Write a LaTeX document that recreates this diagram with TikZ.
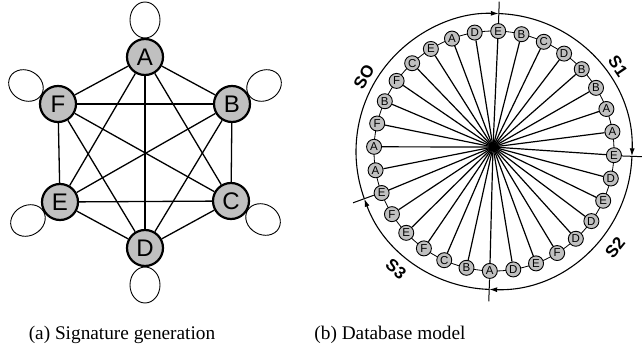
\documentclass[tikz,border=0pt]{standalone}
\usepackage{fontspec}
\setmainfont{Liberation Serif}
\setsansfont{Liberation Sans}
\usetikzlibrary{arrows.meta,calc,backgrounds}
\definecolor{nodegray}{RGB}{192,192,192}
\begin{document}
\begin{tikzpicture}[x=1pt,y=1pt,
  bignode/.style={circle,draw,line width=2.2pt,fill=nodegray,minimum size=36pt,inner sep=0pt,
    font=\sffamily\fontsize{24}{24}\selectfont},
  edge/.style={line width=1.3pt},
  loopline/.style={line width=0.9pt},
  token/.style={circle,draw,line width=0.9pt,fill=nodegray,minimum size=15pt,inner sep=0pt,
    font=\sffamily\fontsize{11.5}{11.5}\selectfont},
  spoke/.style={line width=1.2pt},
  ringline/.style={line width=0.8pt},
  segarc/.style={line width=1.1pt,-{Latex[length=8pt,width=5pt]}},
  tickline/.style={line width=1pt},
  seglabel/.style={font=\sffamily\bfseries\fontsize{17}{17}\selectfont,inner sep=0pt},
  captiontext/.style={font=\fontsize{19.3}{19.3}\selectfont,anchor=base}
]
\useasboundingbox (0,0) rectangle (642,351);

% ---------- (a) complete graph with self-loops ----------
\node[bignode] (A) at (145,294) {A};
\node[bignode] (B) at (232,247) {B};
\node[bignode] (C) at (231,150) {C};
\node[bignode] (D) at (145,103) {D};
\node[bignode] (E) at (60,149)  {E};
\node[bignode] (F) at (58,247)  {F};

\foreach \u/\v in {A/B,A/C,A/D,A/E,A/F,B/C,B/D,B/E,B/F,C/D,C/E,C/F,D/E,D/F,E/F}
  \draw[edge] (\u) -- (\v);

\begin{pgfonlayer}{background}
  \foreach \n/\a in {A/90,B/30,C/-30,D/-90,E/210,F/150} {
    \begin{scope}[shift={(\n)},rotate=\a]
      \draw[loopline] (37,0) ellipse[x radius=18,y radius=15];
    \end{scope}
  }
\end{pgfonlayer}

% ---------- (b) circular database of signatures ----------
\coordinate (O) at (494,199.5);   % centre of the outer circle
\coordinate (ring) at (494,200);  % centre of the token ring
\coordinate (hub) at (493,204);   % where all spokes meet

\foreach \l [count=\k from 0] in {E,B,C,D,B,B,A,A,E,D,E,D,D,F,E,D,A,B,C,F,E,F,E,A,A,F,B,F,C,E,A,D}
  \node[token] (s\k) at ($(ring)+({88-11.25*\k}:120)$) {\l};

\foreach \k in {0,...,31}
  \draw[spoke] (hub) -- (s\k);

\begin{pgfonlayer}{background}
  \draw[ringline] (ring) circle[radius=120];
\end{pgfonlayer}

% segment boundaries
\foreach \a in {88,-2,-92,200}
  \draw[tickline] ($(O)+(\a:128)$) -- ($(O)+(\a:150)$);

% clockwise segment arcs
\draw[segarc] ($(O)+(200:138)$) arc[start angle=200,end angle=88,radius=138];
\draw[segarc] ($(O)+(88:138)$)  arc[start angle=88,end angle=-2,radius=138];
\draw[segarc] ($(O)+(-2:138)$)  arc[start angle=-2,end angle=-92,radius=138];
\draw[segarc] ($(O)+(-92:138)$) arc[start angle=-92,end angle=-160,radius=138];

\node[seglabel,rotate=60]  (l0) at (364,274) {SO};
\node[seglabel,rotate=-56] (l1) at (618,285) {S1};
\node[seglabel,rotate=51]  (l2) at (615,103) {S2};
\node[seglabel,rotate=-40] (l3) at (396,82)  {S3};

% ---------- captions ----------
\node[captiontext] (capa) at (122,12) {(a) Signature generation};
\node[captiontext] (capb) at (390,12) {(b) Database model};
\end{tikzpicture}
\end{document}
